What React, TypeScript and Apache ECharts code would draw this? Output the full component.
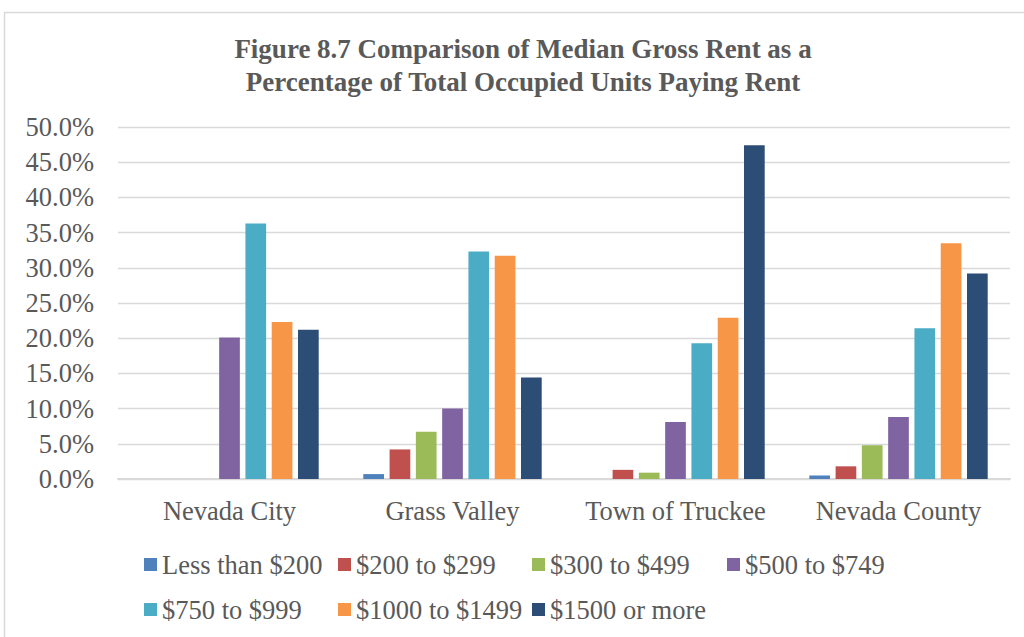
import React, { useEffect, useRef } from "react";
import * as echarts from "echarts";

const categories = ["Nevada City", "Grass Valley", "Town of Truckee", "Nevada County"];
const seriesNames = [
  "Less than $200",
  "$200 to $299",
  "$300 to $499",
  "$500 to $749",
  "$750 to $999",
  "$1000 to $1499",
  "$1500 or more",
];
const lessThan200 = [0, 0.7, 0, 0.5];
const from200to299 = [0, 4.2, 1.3, 1.8];
const from300to499 = [0, 6.7, 0.9, 4.8];
const from500to749 = [20.1, 10.0, 8.1, 8.8];
const from750to999 = [36.3, 32.3, 19.3, 21.4];
const from1000to1499 = [22.3, 31.7, 22.9, 33.5];
const from1500up = [21.2, 14.4, 47.4, 29.2];
const seriesValues = [
  lessThan200,
  from200to299,
  from300to499,
  from500to749,
  from750to999,
  from1000to1499,
  from1500up,
];
const colors = ["#4F81BD", "#C0504D", "#9BBB59", "#8064A2", "#4BACC6", "#F79646", "#2C4D75"];
const titleText = "Figure 8.7 Comparison of Median Gross Rent as a\nPercentage of Total Occupied Units Paying Rent";

const FONT = "'Liberation Serif', 'Times New Roman', serif";
const TEXT_COLOR = "#595959";

// legend layout: column x positions and row y tops
const legendCols = [144, 338, 532, 727];
const legendRows = [551, 596];
const legendSlots = [
  [0, 0], [1, 0], [2, 0], [3, 0],
  [0, 1], [1, 1], [2, 1],
];

export default function App() {
  const ref = useRef<HTMLDivElement>(null);
  useEffect(() => {
    if (!ref.current) return;
    const chart = echarts.init(ref.current, null, { renderer: "svg" });
    const legends = seriesNames.map((name, i) => ({
      data: [name],
      left: legendCols[legendSlots[i][0]],
      top: legendRows[legendSlots[i][1]],
      padding: 0,
      itemWidth: 13,
      itemHeight: 13,
      icon: "rect",
      selectedMode: false,
      textStyle: { fontFamily: FONT, fontSize: 26.5, color: TEXT_COLOR, lineHeight: 26 },
    }));
    chart.setOption({
      animation: false,
      color: colors,
      title: {
        text: titleText,
        left: 523,
        top: 32,
        textAlign: "center",
        padding: 0,
        textStyle: {
          fontFamily: FONT,
          fontSize: 27,
          fontWeight: "bold",
          color: TEXT_COLOR,
          lineHeight: 33,
        },
      },
      graphic: [
        {
          type: "polyline",
          shape: { points: [[4.5, 700], [4.5, 12.5], [1100, 12.5]] },
          style: { stroke: "#d9d9d9", lineWidth: 1.5, fill: null },
          silent: true,
        },
      ],
      legend: legends,
      grid: { left: 118, right: 14, top: 127, bottom: 158, containLabel: false },
      xAxis: {
        type: "category",
        data: categories,
        axisTick: { show: false },
        axisLine: { lineStyle: { color: "#d9d9d9", width: 2 } },
        axisLabel: {
          interval: 0,
          fontFamily: FONT,
          fontSize: 26.5,
          color: TEXT_COLOR,
          margin: 19,
          lineHeight: 26,
        },
      },
      yAxis: {
        type: "value",
        min: 0,
        max: 50,
        interval: 5,
        axisLine: { show: false },
        axisTick: { show: false },
        splitLine: { lineStyle: { color: "#d9d9d9", width: 1.3 } },
        axisLabel: {
          fontFamily: FONT,
          fontSize: 26.5,
          color: TEXT_COLOR,
          margin: 24,
          formatter: (v: number) => v.toFixed(1) + "%",
        },
      },
      series: seriesNames.map((name, i) => ({
        name,
        type: "bar",
        data: seriesValues[i],
        barGap: "27%",
        barCategoryGap: "20%",
        itemStyle: { color: colors[i] },
      })),
    });
    return () => chart.dispose();
  }, []);
  return (
    <div
      ref={ref}
      style={{ position: "fixed", left: 0, top: 0, width: 1024, height: 637, background: "#fff" }}
    />
  );
}
